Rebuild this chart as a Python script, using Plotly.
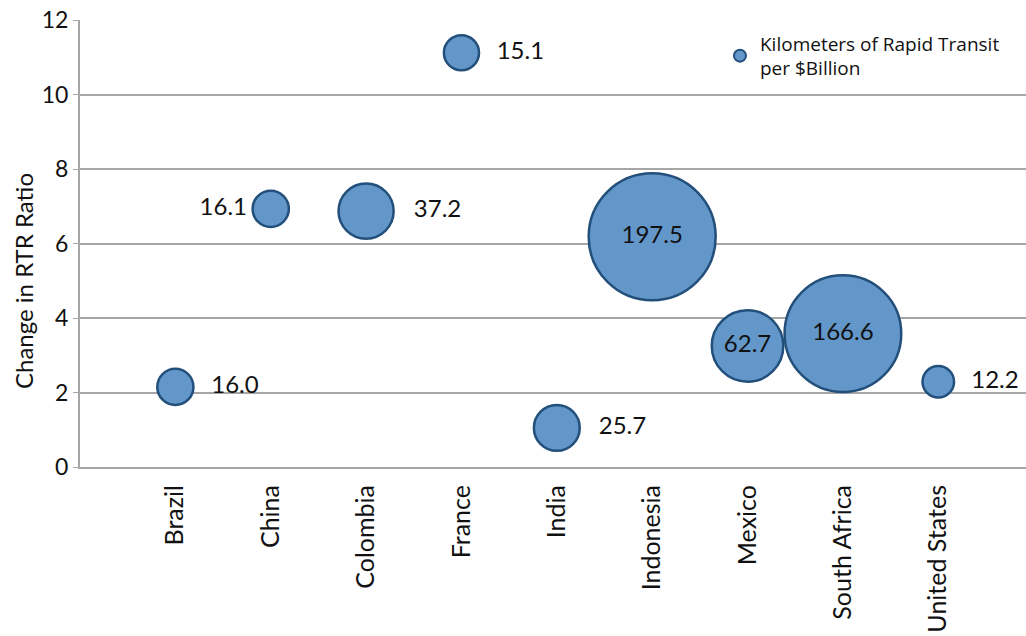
import plotly.graph_objects as go

countries = ["Brazil", "China", "Colombia", "France", "India", "Indonesia",
             "Mexico", "South Africa", "United States"]
rtr_change = [2.15, 6.93, 6.87, 11.12, 1.05, 6.18, 3.25, 3.58, 2.29]
km_per_billion = [16.0, 16.1, 37.2, 15.1, 25.7, 197.5, 62.7, 166.6, 12.2]
label_pos = ["middle right", "middle left", "middle right", "middle right",
             "middle right", "middle center", "middle center", "middle center",
             "middle right"]
y_ticks = [0, 2, 4, 6, 8, 10, 12]

xpos = list(range(1, len(countries) + 1))
max_d = 127
sizeref = 2.0 * max(km_per_billion) / (max_d ** 2)

def fmt(v, pos):
    s = f"{v:.1f}"
    if pos == "middle right":
        return "  " + s
    return s

fig = go.Figure()
fig.add_trace(go.Scatter(
    x=xpos, y=rtr_change, mode="markers+text",
    name="Kilometers of Rapid Transit<br>per $Billion",
    text=[fmt(v, p) for v, p in zip(km_per_billion, label_pos)],
    textposition=label_pos,
    textfont=dict(family="Lato", size=24, color="#111111"),
    marker=dict(size=km_per_billion, sizemode="area", sizeref=sizeref,
                color="#6397CA", line=dict(color="#234F7B", width=2.5), opacity=1),
    cliponaxis=False,
))

fig.add_annotation(
    text="Change in RTR Ratio", textangle=-90,
    xref="paper", yref="paper", x=-0.0603, y=0.416,
    xanchor="center", yanchor="middle", showarrow=False,
    font=dict(family="Lato", size=24, color="#111111"),
)

fig.update_layout(
    width=1026, height=636,
    margin=dict(l=80, r=0, t=20, b=169),
    plot_bgcolor="white", paper_bgcolor="white",
    font=dict(family="Lato", size=22, color="#111111"),
    showlegend=True,
    legend=dict(x=0.6765, y=0.99, xanchor="left", yanchor="top",
                font=dict(family="Open Sans", size=19, color="#111111"),
                itemsizing="constant", bgcolor="rgba(0,0,0,0)",
                itemwidth=30, tracegroupgap=0),
    xaxis=dict(range=[0, 9.92], tickvals=xpos, ticktext=countries,
               tickangle=-90, showgrid=False, zeroline=False,
               showline=True, linecolor="#a6a6a6", linewidth=2,
               ticks="", tickfont=dict(size=25), ticklabelstandoff=6),
    yaxis=dict(range=[0, 12], tickvals=y_ticks, showgrid=True,
               gridcolor="#a6a6a6", gridwidth=1.5, zeroline=False,
               showline=True, linecolor="#a6a6a6", linewidth=2,
               ticks="outside", ticklen=5, tickcolor="#a6a6a6",
               tickfont=dict(size=23)),
)

fig.write_html("out.html")
